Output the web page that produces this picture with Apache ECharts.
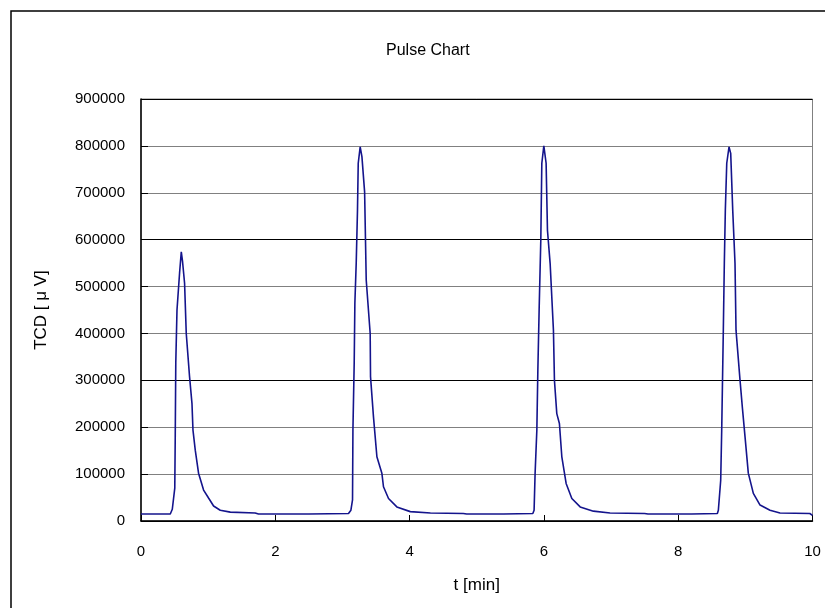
<!DOCTYPE html>
<html>
<head>
<meta charset="utf-8">
<script src="https://cdn.jsdelivr.net/npm/echarts@6/dist/echarts.min.js"></script>
<style>
html,body{margin:0;padding:0;background:#fff;}
#chart{width:825px;height:608px;}
</style>
</head>
<body>
<div id="chart"></div>
<script>
var chartTitle = 'Pulse Chart';
var xAxisName = 't [min]';
var yAxisName = 'TCD [ \u03bc V]';
var xTicks = [0, 2, 4, 6, 8, 10];
var yTicks = [0, 100000, 200000, 300000, 400000, 500000, 600000, 700000, 800000, 900000];

var timeMin = [
  0, 0.2, 0.436, 0.466, 0.503, 0.51, 0.518, 0.536, 0.575, 0.60, 0.619, 0.649, 0.674, 0.723, 0.759, 0.774, 0.808, 0.857, 0.932, 1.006, 1.081, 1.18, 1.33, 1.7, 1.75,
  2.5, 3.09, 3.126, 3.15, 3.156, 3.175, 3.185, 3.205, 3.224, 3.235, 3.264, 3.29, 3.33, 3.354, 3.413, 3.418, 3.462, 3.513, 3.587, 3.611, 3.686, 3.81, 4.01, 4.31, 4.8, 4.85,
  5.4, 5.835, 5.854, 5.869, 5.895, 5.91, 5.929, 5.954, 5.969, 5.999, 6.033, 6.053, 6.093, 6.142, 6.157, 6.192, 6.231, 6.267, 6.331, 6.416, 6.54, 6.737, 6.985, 7.5, 7.55,
  8.2, 8.583, 8.598, 8.633, 8.648, 8.672, 8.687, 8.702, 8.723, 8.757, 8.782, 8.812, 8.846, 8.861, 8.921, 8.955, 8.995, 9.044, 9.119, 9.219, 9.367, 9.516, 9.96, 10
];
var tcdMicroV = [
  15000, 15000, 15000, 25000, 70000, 180000, 337000, 450000, 530000, 574000, 553000, 507000, 400000, 308000, 251000, 194000, 151000, 102000, 66000, 49000, 32000, 23000, 19000, 17000, 15000,
  15000, 16000, 23000, 45000, 194000, 337000, 465000, 550000, 663000, 763000, 798000, 777000, 702000, 514000, 400000, 308000, 222000, 137000, 102000, 73000, 48000, 30000, 20000, 17000, 16000, 15000,
  15000, 16000, 23000, 102000, 194000, 322000, 450000, 600000, 763000, 800000, 763000, 620000, 549000, 407000, 300000, 229000, 208000, 137000, 80000, 48000, 30000, 21000, 17000, 16000, 15000,
  15000, 16000, 23000, 87000, 194000, 407000, 550000, 663000, 763000, 798000, 784000, 663000, 549000, 407000, 300000, 243000, 180000, 102000, 59000, 34000, 23000, 17000, 16000, 12000
];

var seriesData = timeMin.map(function (t, i) { return [t, tcdMicroV[i]]; });
var font = "'Liberation Sans', Arial, sans-serif";

var chart = echarts.init(document.getElementById('chart'), null, {renderer: 'canvas'});
chart.setOption({
  backgroundColor: '#ffffff',
  animation: false,
  title: {
    text: chartTitle,
    left: 381,
    top: 38,
    textStyle: {fontFamily: font, fontSize: 16, fontWeight: 'normal', color: '#000'}
  },
  graphic: [{
    type: 'rect',
    shape: {x: 11, y: 11, width: 1000, height: 800},
    style: {fill: 'none', stroke: '#000', lineWidth: 1.5},
    silent: true,
    z: -1
  }],
  grid: {
    left: 141, right: 12.5, top: 99, bottom: 87,
    show: true, borderColor: '#808080', borderWidth: 1, backgroundColor: '#fff'
  },
  xAxis: {
    type: 'value',
    min: xTicks[0], max: xTicks[xTicks.length - 1], interval: 2,
    name: xAxisName,
    nameLocation: 'middle',
    nameGap: 56,
    nameTextStyle: {fontFamily: font, fontSize: 17, color: '#000'},
    axisLine: {show: true, onZero: false, lineStyle: {color: '#000', width: 1.5}},
    axisTick: {show: true, inside: true, length: 6, lineStyle: {color: '#000'}},
    axisLabel: {fontFamily: font, fontSize: 15, color: '#000', margin: 23},
    splitLine: {show: false}
  },
  yAxis: {
    type: 'value',
    min: yTicks[0], max: yTicks[yTicks.length - 1], interval: 100000,
    name: yAxisName,
    nameLocation: 'middle',
    nameRotate: 90,
    nameGap: 91,
    nameTextStyle: {fontFamily: font, fontSize: 17, color: '#000'},
    axisLine: {show: true, lineStyle: {color: '#000', width: 1.5}},
    axisTick: {show: true, inside: true, length: 7, lineStyle: {color: '#000'}},
    axisLabel: {fontFamily: font, fontSize: 15, color: '#000', margin: 16,
      formatter: function (v) { return String(v); }},
    splitLine: {show: true, lineStyle: {color: ['#000000', '#808080', '#808080'], width: 1.2}}
  },
  series: [{
    type: 'line',
    data: seriesData,
    showSymbol: false,
    symbol: 'none',
    lineStyle: {color: '#14148c', width: 1.6},
    itemStyle: {color: '#14148c'}
  }]
});
</script>
</body>
</html>
